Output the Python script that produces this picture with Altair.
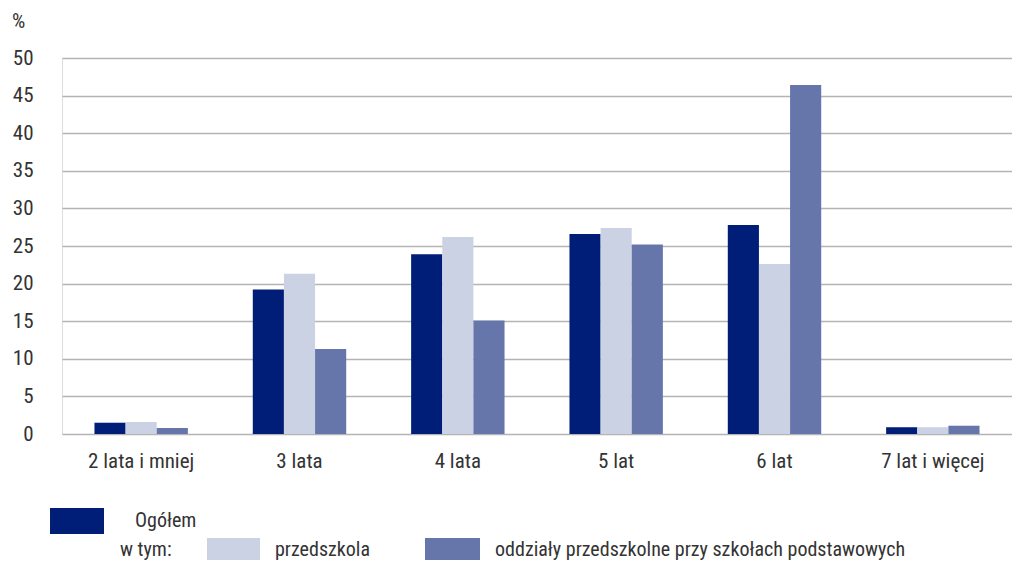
import altair as alt
import pandas as pd

categories = ["2 lata i mniej", "3 lata", "4 lata", "5 lat", "6 lat", "7 lat i więcej"]
series = ["Ogółem", "przedszkola", "oddziały przedszkolne przy szkołach podstawowych"]
ogolem = [1.5, 19.2, 23.9, 26.6, 27.8, 0.9]
przedszkola = [1.6, 21.3, 26.2, 27.4, 22.6, 0.9]
oddzialy = [0.8, 11.3, 15.1, 25.2, 46.4, 1.1]
colors = ["#001E78", "#CBD2E4", "#6676AB"]
y_ticks = [0, 5, 10, 15, 20, 25, 30, 35, 40, 45, 50]

rows = []
for s, vals in zip(series, [ogolem, przedszkola, oddzialy]):
    for c, v in zip(categories, vals):
        rows.append({"kat": c, "seria": s, "val": v})
df = pd.DataFrame(rows)

FONT = "Roboto Condensed, DejaVu Sans Condensed, Roboto, sans-serif"
TXT = "#333333"
FS = 21
W, H = 950, 376

bars = alt.Chart(df).mark_bar().encode(
    x=alt.X("kat:N", sort=categories, title=None,
            scale=alt.Scale(paddingInner=0.41, paddingOuter=0.205),
            axis=alt.Axis(labelAngle=0, labelFont=FONT, labelFontSize=FS,
                          labelColor=TXT, labelPadding=16, ticks=False, domain=False)),
    xOffset=alt.XOffset("seria:N", sort=series, scale=alt.Scale(paddingInner=0, paddingOuter=0)),
    y=alt.Y("val:Q", title=None,
            scale=alt.Scale(domain=[0, 50], nice=False),
            axis=alt.Axis(values=y_ticks, labelFont=FONT, labelFontSize=FS, labelColor=TXT,
                          labelPadding=29, ticks=False, domain=False,
                          gridColor="#B4B4B4", gridWidth=1.3)),
    color=alt.Color("seria:N", sort=series,
                    scale=alt.Scale(domain=series, range=colors), legend=None),
)

pct = alt.Chart(pd.DataFrame({"t": ["%"]})).mark_text(
    align="left", baseline="middle", font=FONT, fontSize=FS, color=TXT
).encode(text="t:N", x=alt.value(-50), y=alt.value(-36))

def swatch(name, color, x1, x2, y1, y2):
    return alt.Chart(pd.DataFrame({"label": [name]})).mark_rect(color=color).encode(
        x=alt.value(x1), x2=alt.value(x2), y=alt.value(y1), y2=alt.value(y2))

def label(text, x, y):
    return alt.Chart(pd.DataFrame({"label": [text]})).mark_text(
        align="left", baseline="middle", font=FONT, fontSize=FS - 1, color=TXT
    ).encode(text="label:N", x=alt.value(x), y=alt.value(y))

r1, r2 = 463, 492
legend_layers = [
    swatch(series[0], colors[0], -12, 42, r1 - 13, r1 + 13),
    label(series[0], 73, r1),
    label("w tym:", 58, r2),
    swatch(series[1], colors[1], 145, 198, r2 - 12, r2 + 12),
    label(series[1], 213, r2),
    swatch(series[2], colors[2], 363, 418, r2 - 12, r2 + 12),
    label(series[2], 433, r2),
]

chart = alt.layer(bars, pct, *legend_layers).properties(
    width=W, height=H,
    autosize=alt.AutoSizeParams(type="none"),
    padding={"left": 54, "top": 50, "right": 0, "bottom": 126},
).configure_view(stroke=None).configure(background="white")

chart.save("out.html", embed_options={"renderer": "svg", "actions": False})
